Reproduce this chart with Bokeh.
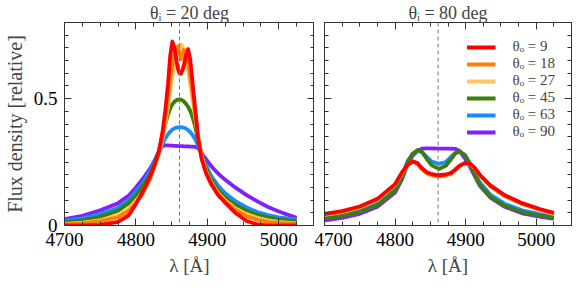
from bokeh.plotting import figure
from bokeh.models import LinearAxis, SingleIntervalTicker, Span, Legend, LegendItem, Range1d
from bokeh.layouts import row
from bokeh.embed import file_html
from bokeh.resources import INLINE

FONT = "Liberation Serif"

labels = ["θₒ = 9", "θₒ = 18", "θₒ = 27", "θₒ = 45", "θₒ = 63", "θₒ = 90"]
colors = ["#ff0000", "#ff8000", "#ffc65c", "#3b7e0c", "#1a8cff", "#8020ff"]
titles = ["θᵢ = 20 deg", "θᵢ = 80 deg"]
line_center = 4861

# ---- left panel (theta_i = 20) ----
wl_left = [4700, 4725, 4750, 4775, 4790, 4800, 4810, 4820, 4826, 4832, 4837, 4841, 4845,
           4848, 4851, 4854, 4857, 4859, 4861, 4863, 4865, 4867, 4870, 4873, 4876, 4879,
           4883, 4887, 4892, 4898, 4905, 4915, 4925, 4940, 4955, 4970, 4985, 5000, 5025]
l_9 = [0.000, 0.000, 0.002, 0.014, 0.040, 0.085, 0.135, 0.195, 0.240, 0.290, 0.365, 0.450, 0.560,
       0.670, 0.725, 0.700, 0.645, 0.615, 0.600, 0.598, 0.610, 0.630, 0.670, 0.695, 0.655, 0.570,
       0.460, 0.345, 0.262, 0.208, 0.165, 0.120, 0.090, 0.048, 0.018, 0.004, 0.000, 0.000, 0.000]
l_18 = [0.004, 0.008, 0.016, 0.033, 0.058, 0.088, 0.128, 0.185, 0.232, 0.285, 0.350, 0.420, 0.505,
        0.575, 0.635, 0.680, 0.702, 0.705, 0.680, 0.655, 0.672, 0.692, 0.680, 0.640, 0.590, 0.530,
        0.440, 0.350, 0.268, 0.210, 0.168, 0.124, 0.094, 0.060, 0.037, 0.023, 0.014, 0.010, 0.006]
l_27 = [0.006, 0.011, 0.020, 0.040, 0.066, 0.096, 0.133, 0.188, 0.232, 0.282, 0.338, 0.398, 0.468,
        0.530, 0.590, 0.640, 0.680, 0.700, 0.712, 0.714, 0.705, 0.688, 0.655, 0.610, 0.560, 0.500,
        0.425, 0.350, 0.275, 0.215, 0.172, 0.128, 0.098, 0.066, 0.045, 0.030, 0.020, 0.014, 0.008]
l_45 = [0.012, 0.020, 0.034, 0.058, 0.088, 0.118, 0.155, 0.200, 0.235, 0.290, 0.350, 0.398, 0.438,
        0.462, 0.478, 0.488, 0.494, 0.496, 0.497, 0.496, 0.493, 0.489, 0.480, 0.468, 0.452, 0.430,
        0.390, 0.335, 0.280, 0.225, 0.182, 0.140, 0.110, 0.080, 0.058, 0.042, 0.031, 0.024, 0.017]
l_63 = [0.018, 0.028, 0.045, 0.070, 0.100, 0.135, 0.170, 0.215, 0.250, 0.290, 0.320, 0.343, 0.360,
        0.370, 0.378, 0.383, 0.386, 0.387, 0.388, 0.388, 0.387, 0.385, 0.382, 0.376, 0.368, 0.358,
        0.340, 0.315, 0.280, 0.237, 0.197, 0.157, 0.127, 0.095, 0.071, 0.053, 0.041, 0.032, 0.024]
l_90 = [0.025, 0.038, 0.060, 0.088, 0.118, 0.150, 0.185, 0.225, 0.255, 0.292, 0.313, 0.316, 0.316,
        0.315, 0.315, 0.314, 0.314, 0.313, 0.313, 0.313, 0.313, 0.312, 0.312, 0.312, 0.311, 0.311,
        0.310, 0.306, 0.285, 0.262, 0.235, 0.205, 0.180, 0.148, 0.120, 0.095, 0.073, 0.055, 0.030]

# ---- right panel (theta_i = 80) ----
wl_right = [4700, 4725, 4750, 4775, 4800, 4810, 4818, 4825, 4832, 4838, 4845, 4852, 4862,
            4872, 4879, 4885, 4891, 4899, 4906, 4912, 4920, 4935, 4955, 4980, 5005, 5025]
r_9 = [0.046, 0.057, 0.075, 0.105, 0.163, 0.210, 0.240, 0.253, 0.245, 0.226, 0.210, 0.202, 0.198,
       0.201, 0.207, 0.220, 0.235, 0.247, 0.243, 0.230, 0.200, 0.158, 0.120, 0.088, 0.065, 0.050]
r_18 = [0.044, 0.055, 0.073, 0.103, 0.161, 0.208, 0.239, 0.252, 0.243, 0.223, 0.207, 0.199, 0.195,
        0.198, 0.205, 0.218, 0.234, 0.246, 0.242, 0.229, 0.198, 0.156, 0.118, 0.086, 0.063, 0.048]
r_27 = [0.042, 0.053, 0.071, 0.101, 0.160, 0.207, 0.238, 0.252, 0.241, 0.221, 0.205, 0.197, 0.193,
        0.196, 0.203, 0.217, 0.233, 0.245, 0.241, 0.228, 0.197, 0.154, 0.116, 0.084, 0.061, 0.046]
r_45 = [0.028, 0.038, 0.054, 0.080, 0.137, 0.188, 0.250, 0.283, 0.298, 0.290, 0.262, 0.237, 0.223,
        0.235, 0.260, 0.283, 0.293, 0.277, 0.240, 0.205, 0.161, 0.113, 0.078, 0.053, 0.039, 0.030]
r_63 = [0.034, 0.045, 0.062, 0.090, 0.147, 0.198, 0.255, 0.283, 0.295, 0.290, 0.270, 0.252, 0.243,
        0.250, 0.270, 0.285, 0.290, 0.278, 0.245, 0.212, 0.170, 0.122, 0.086, 0.060, 0.045, 0.036]
r_90 = [0.020, 0.030, 0.046, 0.074, 0.130, 0.183, 0.245, 0.275, 0.294, 0.303, 0.304, 0.304, 0.303,
        0.303, 0.303, 0.302, 0.295, 0.265, 0.232, 0.200, 0.157, 0.110, 0.074, 0.048, 0.035, 0.026]

left_series = [l_9, l_18, l_27, l_45, l_63, l_90]
right_series = [r_9, r_18, r_27, r_45, r_63, r_90]

AX = "#333333"


def style_axis(ax, show_labels):
    ax.major_tick_in = 7
    ax.major_tick_out = 0
    ax.minor_tick_in = 4
    ax.minor_tick_out = 0
    ax.axis_line_color = AX
    ax.major_tick_line_color = AX
    ax.minor_tick_line_color = AX
    ax.major_label_text_font = FONT
    if show_labels:
        ax.major_label_text_color = "black"
        ax.major_label_text_font_size = "19px"
        ax.major_label_standoff = 7
    else:
        ax.major_label_text_color = None
        ax.major_label_standoff = 0


def xticker():
    return SingleIntervalTicker(interval=100, num_minor_ticks=4)


def yticker():
    return SingleIntervalTicker(interval=0.5, num_minor_ticks=10)


def make_fig(fw, bl, br, title, ylabels):
    p = figure(frame_width=fw, frame_height=203,
               x_range=Range1d(4700, 5050), y_range=Range1d(0, 0.8),
               output_backend="svg", toolbar_location=None,
               min_border_left=bl, min_border_right=br, min_border_top=15, min_border_bottom=57)
    p.grid.visible = False
    p.outline_line_color = AX
    p.background_fill_color = "white"
    p.border_fill_color = "white"
    p.title.text = title
    p.title.text_font = FONT
    p.title.text_font_size = "18px"
    p.title.text_font_style = "normal"
    p.title.align = "center"
    p.title.standoff = 0
    p.xaxis.ticker = xticker()
    p.yaxis.ticker = yticker()
    style_axis(p.xaxis[0], True)
    style_axis(p.yaxis[0], ylabels)
    p.xaxis.axis_label = "λ [Å]"
    p.xaxis.axis_label_text_font = FONT
    p.xaxis.axis_label_text_font_size = "19px"
    p.xaxis.axis_label_text_font_style = "normal"
    p.xaxis.axis_label_standoff = 6
    if ylabels:
        p.yaxis.axis_label = "Flux density [relative]"
        p.yaxis.axis_label_text_font = FONT
        p.yaxis.axis_label_text_font_size = "20px"
        p.yaxis.axis_label_text_font_style = "normal"
        p.yaxis.axis_label_standoff = 5
        p.yaxis.major_label_overrides = {0: "0", 0.5: "0.5"}
    top = LinearAxis(ticker=xticker())
    style_axis(top, False)
    p.add_layout(top, "above")
    right = LinearAxis(ticker=yticker())
    style_axis(right, False)
    p.add_layout(right, "right")
    p.add_layout(Span(location=line_center, dimension="height", line_color="#777777",
                      line_width=1, line_dash="4 3"))
    return p


p1 = make_fig(250, 53, 0, titles[0], True)
p2 = make_fig(247, 10, 2, titles[1], False)
p2.xaxis[0].major_label_overrides = {4700: "\u00a0\u00a0\u00a0\u00a04700"}

for ser, col in reversed(list(zip(left_series, colors))):
    p1.line(wl_left, ser, line_color=col, line_width=3.8, line_join="round")

rends = {}
for ser, col, lab in reversed(list(zip(right_series, colors, labels))):
    rends[lab] = p2.line(wl_right, ser, line_color=col, line_width=3.8, line_join="round")

legend = Legend(items=[LegendItem(label=lab, renderers=[rends[lab]]) for lab in labels],
                location="top_right", margin=0, padding=16, spacing=0,
                glyph_width=29, glyph_height=16, label_height=16, label_standoff=17,
                label_text_font=FONT, label_text_font_size="15px",
                background_fill_alpha=0, border_line_alpha=0)
p2.add_layout(legend)

layout = row(p1, p2)
open("out.html", "w").write(file_html(layout, INLINE))
